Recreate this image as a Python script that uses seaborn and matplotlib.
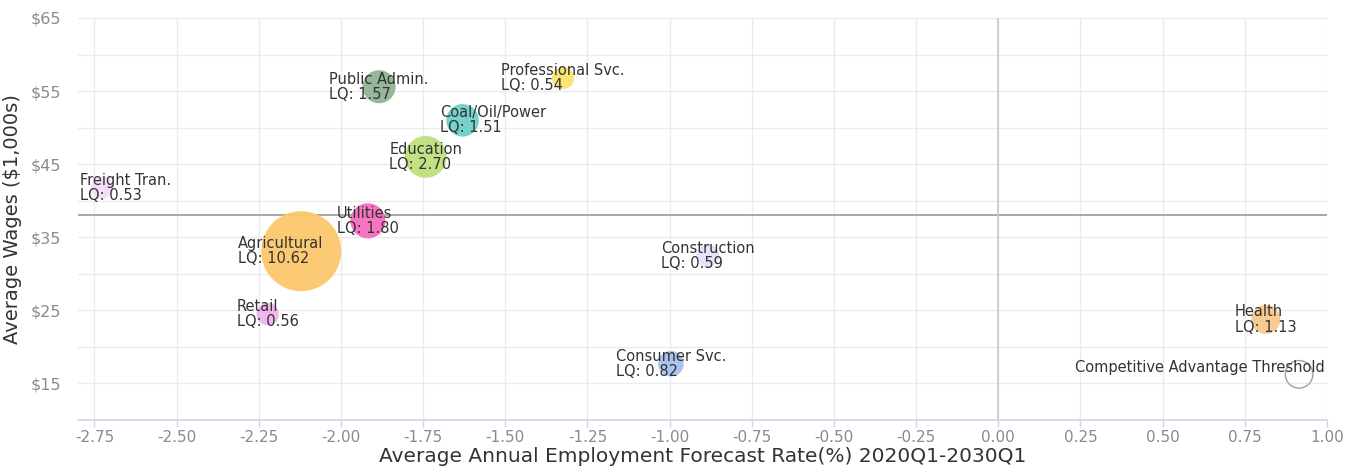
import pandas as pd
import seaborn as sns
import matplotlib.pyplot as plt
import numpy as np
from matplotlib.ticker import FixedLocator

# Industry bubbles: growth rate (%), average wage ($1,000s), location quotient
industries = ["Freight Tran.", "Public Admin.", "Education", "Coal/Oil/Power",
              "Professional Svc.", "Utilities", "Agricultural", "Retail",
              "Construction", "Consumer Svc.", "Health"]
growth = [-2.726, -1.884, -1.742, -1.630, -1.324, -1.918, -2.121, -2.223,
          -0.884, -0.996, 0.814]
wages = [41.8, 55.6, 46.0, 51.0, 56.8, 37.25, 33.1, 24.5, 32.5, 17.7, 23.75]
lq = [0.53, 1.57, 2.70, 1.51, 0.54, 1.80, 10.62, 0.56, 0.59, 0.82, 1.13]

# Reference bubble and threshold lines
threshold_label = "Competitive Advantage Threshold"
threshold_growth_pt = 0.915
threshold_wage_pt = 16.25
threshold_lq = 1.0
wage_threshold = 38.0
growth_threshold = 0.0

x_ticks = [-2.75, -2.5, -2.25, -2.0, -1.75, -1.5, -1.25, -1.0, -0.75, -0.5,
           -0.25, 0.0, 0.25, 0.5, 0.75, 1.0]
y_ticks = [15, 25, 35, 45, 55, 65]

colors = ["#f8dcf8", "#93b394", "#bfe07e", "#6fd0c9", "#f9e46c", "#f76dbf",
          "#fcc86c", "#efb2ef", "#e2e2fb", "#a6c0f0", "#f7c98c"]

df = pd.DataFrame({"industry": industries, "growth": growth,
                   "wage": wages, "lq": lq})

sns.set_theme(style="white")
plt.rcParams["font.family"] = ["DejaVu Sans"]

fig = plt.figure(figsize=(13.45, 4.74), dpi=100)
ax = fig.add_axes([78 / 1345, 1 - 420 / 474, (1327 - 78) / 1345, (420 - 18) / 474])

size_range = (251, 3318)
size_norm = (0.53, 10.62)

# threshold lines
ax.axhline(wage_threshold, color="#9a9a9a", lw=1.2, zorder=1)
ax.axvline(growth_threshold, color="#c8c8c8", lw=1.2, zorder=1)

sns.scatterplot(data=df, x="growth", y="wage", hue="industry", palette=colors,
                size="lq", sizes=size_range, size_norm=size_norm,
                linewidth=0, alpha=0.95, legend=False, ax=ax, zorder=3)

ax.scatter([threshold_growth_pt], [threshold_wage_pt],
           s=size_range[0] + (threshold_lq - size_norm[0]) / (size_norm[1] - size_norm[0]) * (size_range[1] - size_range[0]),
           facecolors="none", edgecolors="#a0a0a0", linewidths=1, zorder=3)

# data labels
label_shift = {"Coal/Oil/Power": 22, "Agricultural": -15}
texts = []
for name, gx, wy, q in zip(industries, growth, wages, lq):
    t = ax.annotate(f"{name}\nLQ: {q:.2f}", (gx, wy),
                    xytext=(label_shift.get(name, 0), 0), textcoords="offset points",
                    ha="center", va="center", multialignment="left",
                    fontsize=10.5, color="#333333", linespacing=1.0, zorder=5)
    texts.append(t)
t = ax.annotate(threshold_label, (threshold_growth_pt, threshold_wage_pt),
                xytext=(0, 5), textcoords="offset points",
                ha="center", va="center", fontsize=10.5, color="#333333", zorder=5)
texts.append(t)

ax.set_xlim(-2.80, 1.0)
ax.set_ylim(10, 65)

ax.xaxis.set_major_locator(FixedLocator(x_ticks))
ax.set_xticklabels([f"{v:.2f}" for v in x_ticks])
ax.yaxis.set_major_locator(FixedLocator(y_ticks))
ax.yaxis.set_minor_locator(FixedLocator([10, 20, 30, 40, 50, 60]))
ax.set_yticklabels([f"${v}" for v in y_ticks])

ax.grid(True, which="both", axis="both", color="#ebebeb", lw=1)
ax.set_axisbelow(True)
for s in ["top", "right", "left"]:
    ax.spines[s].set_visible(False)
ax.spines["bottom"].set_color("#ccd6eb")
ax.spines["bottom"].set_linewidth(1.2)

ax.tick_params(axis="x", which="major", bottom=True, length=5, width=1,
               color="#ccd6eb", labelsize=11, labelcolor="#8a8a8a", pad=2)
ax.tick_params(axis="y", which="both", left=False, labelsize=11.5,
               labelcolor="#8a8a8a", pad=6)

ax.set_xlabel("Average Annual Employment Forecast Rate(%) 2020Q1-2030Q1",
              fontsize=14.5, color="#333333", labelpad=2)
ax.set_ylabel("Average Wages ($1,000s)", fontsize=14, color="#333333", labelpad=6)

# keep labels inside the plot area, as the original chart does
fig.canvas.draw()
renderer = fig.canvas.get_renderer()
ax_box = ax.get_window_extent(renderer)
for t in texts:
    bb = t.get_window_extent(renderer)
    dx = 0
    if bb.x0 < ax_box.x0 + 2:
        dx = ax_box.x0 + 2 - bb.x0
    elif bb.x1 > ax_box.x1 - 2:
        dx = ax_box.x1 - 2 - bb.x1
    if dx:
        ox, oy = t.xyann
        t.xyann = (ox + dx * 72 / fig.dpi, oy)

fig.savefig("out.png", dpi=100)
